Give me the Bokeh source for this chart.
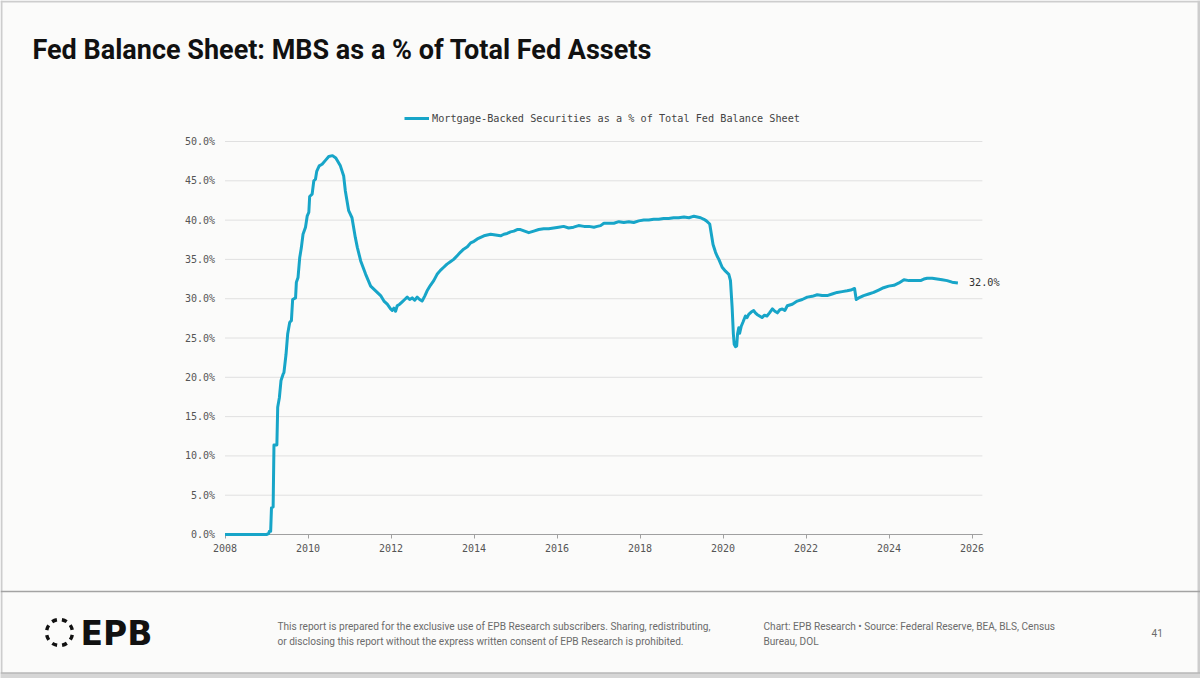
from bokeh.plotting import figure
from bokeh.models import (Range1d, FixedTicker, PrintfTickFormatter, Label,
                          Legend, LegendItem, ColumnDataSource)
from bokeh.core.properties import value
from bokeh.embed import file_html
from bokeh.resources import INLINE

# ---- data: MBS holdings as a share of total Fed assets (%), by decimal year ----
years = [
    2008.00, 2008.50, 2009.00, 2009.05, 2009.07, 2009.10, 2009.12, 2009.16, 2009.18, 2009.25,
    2009.27, 2009.31, 2009.35, 2009.40, 2009.42, 2009.47, 2009.51, 2009.56, 2009.60, 2009.63,
    2009.70, 2009.72, 2009.76, 2009.80, 2009.84, 2009.88, 2009.94, 2009.98, 2010.02, 2010.04,
    2010.10, 2010.14, 2010.18, 2010.21, 2010.27, 2010.34, 2010.42, 2010.50, 2010.59, 2010.67,
    2010.78, 2010.86, 2010.90, 2010.98, 2011.06, 2011.14, 2011.19, 2011.27, 2011.39, 2011.51,
    2011.63, 2011.75, 2011.83, 2011.91, 2011.99, 2012.03, 2012.07, 2012.11, 2012.15, 2012.21,
    2012.27, 2012.33, 2012.39, 2012.45, 2012.51, 2012.57, 2012.63, 2012.69, 2012.75, 2012.81,
    2012.87, 2012.95, 2013.03, 2013.11, 2013.19, 2013.27, 2013.35, 2013.43, 2013.51, 2013.60,
    2013.67, 2013.75, 2013.84, 2013.92, 2014.00, 2014.08, 2014.16, 2014.24, 2014.32, 2014.40,
    2014.52, 2014.64, 2014.72, 2014.80, 2014.88, 2014.96, 2015.04, 2015.12, 2015.22, 2015.32,
    2015.44, 2015.56, 2015.68, 2015.80, 2015.92, 2016.04, 2016.16, 2016.28, 2016.40, 2016.52,
    2016.65, 2016.77, 2016.89, 2016.97, 2017.05, 2017.13, 2017.25, 2017.37, 2017.49, 2017.61,
    2017.73, 2017.85, 2017.97, 2018.09, 2018.21, 2018.33, 2018.45, 2018.57, 2018.69, 2018.81,
    2018.93, 2019.06, 2019.18, 2019.30, 2019.38, 2019.46, 2019.54, 2019.60, 2019.68, 2019.72,
    2019.76, 2019.82, 2019.86, 2019.90, 2019.98, 2020.06, 2020.14, 2020.18, 2020.22, 2020.25,
    2020.27, 2020.30, 2020.33, 2020.35, 2020.38, 2020.40, 2020.44, 2020.48, 2020.54, 2020.58,
    2020.62, 2020.68, 2020.74, 2020.78, 2020.82, 2020.88, 2020.94, 2021.00, 2021.06, 2021.12,
    2021.19, 2021.25, 2021.31, 2021.37, 2021.43, 2021.49, 2021.55, 2021.67, 2021.79, 2021.91,
    2022.03, 2022.15, 2022.27, 2022.39, 2022.51, 2022.63, 2022.75, 2022.87, 2022.99, 2023.08,
    2023.17, 2023.19, 2023.21, 2023.27, 2023.39, 2023.51, 2023.63, 2023.75, 2023.87, 2023.99,
    2024.12, 2024.24, 2024.36, 2024.48, 2024.60, 2024.76, 2024.84, 2024.92, 2025.04, 2025.16,
    2025.28, 2025.40, 2025.52, 2025.66,
]
mbs_share = [
    0.0, 0.0, 0.0, 0.1, 0.4, 0.4, 3.4, 3.5, 11.4, 11.4,
    16.2, 17.4, 19.6, 20.4, 20.6, 22.9, 25.5, 27.0, 27.2, 29.9,
    30.1, 32.1, 32.7, 35.2, 36.5, 38.2, 39.1, 40.5, 41.0, 43.0,
    43.3, 45.0, 45.2, 46.2, 46.9, 47.1, 47.6, 48.1, 48.2, 47.9,
    46.9, 45.6, 43.7, 41.2, 40.3, 37.8, 36.5, 34.8, 33.1, 31.6,
    31.0, 30.4, 29.7, 29.3, 28.7, 28.5, 28.8, 28.4, 29.1, 29.3,
    29.6, 29.9, 30.2, 29.9, 30.1, 29.8, 30.2, 29.9, 29.7, 30.3,
    31.0, 31.7, 32.3, 33.1, 33.6, 34.0, 34.4, 34.7, 35.0, 35.5,
    35.9, 36.3, 36.6, 37.1, 37.3, 37.6, 37.8, 38.0, 38.1, 38.2,
    38.1, 38.0, 38.2, 38.3, 38.5, 38.6, 38.8, 38.8, 38.6, 38.4,
    38.6, 38.8, 38.9, 38.9, 39.0, 39.1, 39.2, 39.0, 39.1, 39.3,
    39.2, 39.2, 39.1, 39.2, 39.3, 39.6, 39.6, 39.6, 39.8, 39.7,
    39.8, 39.7, 39.9, 40.0, 40.0, 40.1, 40.1, 40.2, 40.2, 40.3,
    40.3, 40.4, 40.3, 40.5, 40.4, 40.3, 40.1, 39.9, 39.5, 38.2,
    36.9, 35.9, 35.4, 35.0, 34.0, 33.5, 33.1, 32.3, 28.9, 25.5,
    24.2, 23.9, 24.0, 25.5, 26.3, 25.6, 26.5, 27.0, 27.8, 27.6,
    28.0, 28.3, 28.5, 28.2, 28.0, 27.8, 27.6, 27.9, 27.8, 28.2,
    28.7, 28.4, 28.2, 28.6, 28.7, 28.5, 29.1, 29.3, 29.7, 29.9,
    30.2, 30.3, 30.5, 30.4, 30.4, 30.6, 30.8, 30.9, 31.0, 31.1,
    31.3, 30.6, 29.9, 30.1, 30.4, 30.6, 30.8, 31.1, 31.4, 31.6,
    31.7, 32.0, 32.4, 32.3, 32.3, 32.3, 32.5, 32.6, 32.6, 32.5,
    32.4, 32.3, 32.1, 32.0,
]
x_ticks = [2008, 2010, 2012, 2014, 2016, 2018, 2020, 2022, 2024, 2026]
y_ticks = [0, 5, 10, 15, 20, 25, 30, 35, 40, 45, 50]
x_extent = (2008, 2026.25)

TITLE = "Fed Balance Sheet: MBS as a % of Total Fed Assets"
SERIES = "Mortgage-Backed Securities as a % of Total Fed Balance Sheet"
DISCLAIMER = [
    "This report is prepared for the exclusive use of EPB Research subscribers. Sharing, redistributing,",
    "or disclosing this report without the express written consent of EPB Research is prohibited.",
]
SOURCE = [
    "Chart: EPB Research  \u2022  Source: Federal Reserve, BEA, BLS, Census",
    "Bureau, DOL",
]
PAGE_NO = "41"

# ---- page geometry and styling ----
W, H = 1200, 678
X_2008, PX_PER_YEAR = 224.5, 41.5     # where 2008 sits, and pixels per year
Y_ZERO, PX_PER_PCT = 534.0, 7.86      # where 0% sits, and pixels per percentage point
BG = "#fbfbfa"
LINE = "#17a5c8"
MONO = "DejaVu Sans Mono"
SANS = "Roboto"

x0 = x_extent[0] - X_2008 / PX_PER_YEAR
y_top = Y_ZERO / PX_PER_PCT
p = figure(
    width=W, height=H,
    x_range=Range1d(x0, x0 + W / PX_PER_YEAR),
    y_range=Range1d(y_top - H / PX_PER_PCT, y_top),
    min_border=0, toolbar_location=None, output_backend="svg",
    background_fill_color=BG, border_fill_color=BG, outline_line_color=None,
)
# pixel-space ranges for page furniture (title, footer, frame lines)
p.extra_x_ranges = {"px": Range1d(0, W)}
p.extra_y_ranges = {"px": Range1d(H, 0)}
PX = dict(x_range_name="px", y_range_name="px")

# horizontal grid lines across the plotting window
p.segment(x0=[x_extent[0]] * len(y_ticks), x1=[x_extent[1]] * len(y_ticks),
          y0=y_ticks, y1=y_ticks, line_color="#e0e0e0", line_width=1)

src = ColumnDataSource(dict(year=years, share=mbs_share))
r = p.line("year", "share", source=src, line_color=LINE, line_width=3,
           line_join="round", level="overlay")

# axes pinned to the data origin
p.xgrid.grid_line_color = None
p.ygrid.grid_line_color = None
xa, ya = p.xaxis[0], p.yaxis[0]
xa.fixed_location = 0
ya.fixed_location = x_extent[0]
xa.bounds = x_extent
ya.bounds = (y_ticks[0], y_ticks[-1])
xa.ticker = FixedTicker(ticks=x_ticks)
ya.ticker = FixedTicker(ticks=y_ticks)
ya.formatter = PrintfTickFormatter(format="%.1f%%")
for ax in (xa, ya):
    ax.major_label_text_font = MONO
    ax.major_label_text_font_size = "10px"
    ax.major_label_text_color = "#555555"
    ax.minor_tick_line_color = None
    ax.minor_tick_in = 0
    ax.minor_tick_out = 0
ya.axis_line_color = None
ya.major_tick_line_color = None
ya.major_tick_in = 0
ya.major_tick_out = 0
ya.major_label_standoff = 10
xa.axis_line_color = "#a0a0a0"
xa.axis_line_width = 1.2
xa.major_tick_line_color = "#a0a0a0"
xa.major_tick_in = 0
xa.major_tick_out = 4
xa.major_label_standoff = 5

# legend above the plotting window
legend = Legend(items=[LegendItem(label=SERIES, renderers=[r])],
                location=(404, H - 124), orientation="horizontal",
                label_text_font=MONO, label_text_font_size="10.2px",
                label_text_color="#444444", glyph_width=25, glyph_height=12,
                label_height=12, label_standoff=3, padding=0, margin=0,
                spacing=0, border_line_color=None, background_fill_alpha=0)
p.add_layout(legend)

# end-of-series value label
p.add_layout(Label(x=years[-1], y=mbs_share[-1], text=f"{mbs_share[-1]:.1f}%",
                   x_offset=11, text_baseline="middle", text_font=MONO,
                   text_font_size="10.2px", text_color="#333333"))

# title
p.text(x=[32], y=[49], text=[TITLE], text_font=value(SANS), text_font_style="bold",
       text_font_size="27px", text_color="#111111", text_baseline="middle", **PX)

# page frame lines and footer band
p.quad(left=[0, W - 3, 0], right=[2, W, W], top=[0, 0, 0], bottom=[H, H, 2],
       fill_color="#cdcdcd", line_color=None, **PX)
p.segment(x0=[0], y0=[591], x1=[W], y1=[591], line_color="#a3a3a3", line_width=1.5, **PX)
p.quad(left=[0], right=[W], top=[672], bottom=[H], fill_color="#d6d6d6", line_color=None, **PX)
p.segment(x0=[0], y0=[672.5], x1=[W], y1=[672.5], line_color="#a8a8a8", line_width=1, **PX)

# logo: dashed ring + wordmark
starts = [0.20 + k * 0.7854 for k in range(8)]
ends = [s + 0.40 for s in starts]
p.arc(x=[59] * 8, y=[632] * 8, radius=13, start_angle=starts, end_angle=ends,
      line_color="#111111", line_width=3.4, **PX)
p.text(x=[80], y=[633], text=["EPB"], text_font=value("DejaVu Sans"), text_font_style="bold",
       text_font_size="33px", text_color="#111111", text_baseline="middle", **PX)

# footer notes
p.text(x=[277, 277], y=[626, 641], text=DISCLAIMER, text_font=value(SANS),
       text_font_size="10.1px", text_color="#6b6b6b", text_baseline="middle", **PX)
p.text(x=[763, 763], y=[626, 641], text=SOURCE, text_font=value(SANS),
       text_font_size="10.1px", text_color="#6b6b6b", text_baseline="middle", **PX)
p.text(x=[1151], y=[632], text=[PAGE_NO], text_font=value(SANS),
       text_font_size="10.1px", text_color="#6b6b6b", text_baseline="middle", **PX)

open("out.html", "w").write(file_html(p, INLINE))
